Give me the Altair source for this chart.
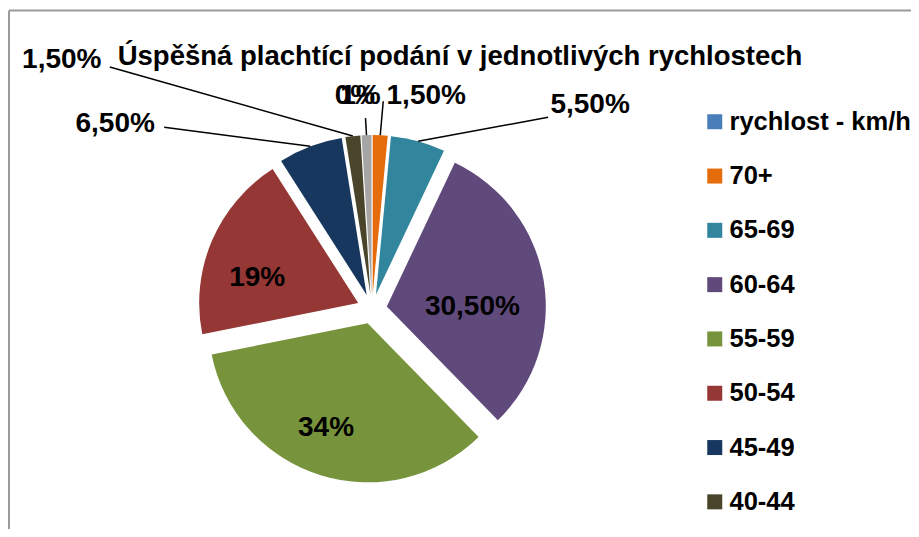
import altair as alt
import pandas as pd

# ---- data ----
categories = ["rychlost - km/h", "70+", "65-69", "60-64", "55-59", "50-54", "45-49", "40-44", "35-39"]
values = [0, 1.5, 5.5, 30.5, 34, 19, 6.5, 1.5, 1]
labels = ["0%", "1,50%", "5,50%", "30,50%", "34%", "19%", "6,50%", "1,50%", "1%"]
colors = ["#4A7EBB", "#E46C0A", "#31859C", "#604A7B", "#77933C", "#953735", "#17375E", "#4A452A", "#A5A5A5"]
title_text = "Úspěšná plachtící podání v jednotlivých rychlostech"

# ---- layout / style (label placement like the original Excel chart) ----
W, H = 903, 521
CX, CY, R, D = 364, 301, 159, 15
label_r = [R, R, R, 100, 100, 100, R, R, R]
text_dx = [-17, 46, 172, -13, -12, -9, -195, -291, -6]
text_dy = [-39, -39, -36, 17, 9, 14, -22, -76, -39]
line_dx = [0, 3, 130, 0, 0, 0, -146, -243, -1]
line_dy = [0, -34, -24, 0, 0, 0, -19, -69, -17]
show_line = [0, 1, 1, 0, 0, 0, 1, 1, 1]

df = pd.DataFrame({
    "order": list(range(len(categories))),
    "category": categories,
    "value": values,
    "label": labels,
    "label_r": label_r,
    "tdx": text_dx,
    "tdy": text_dy,
    "ldx": line_dx,
    "ldy": line_dy,
    "show_line": show_line,
})

base = (
    alt.Chart(df)
    .transform_window(cum="sum(value)", sort=[alt.SortField("order")], frame=[None, 0])
    .transform_joinaggregate(total="sum(value)")
    .transform_calculate(
        a0="2*PI*(datum.cum - datum.value)/datum.total",
        a1="2*PI*datum.cum/datum.total",
    )
    .transform_calculate(mid="(datum.a0 + datum.a1)/2")
    .transform_calculate(
        ax=f"{CX} + {D}*sin(datum.mid)",
        ay=f"{CY} - {D}*cos(datum.mid)",
    )
    .transform_calculate(
        ex=f"datum.ax + {R}*sin(datum.mid)",
        ey=f"datum.ay - {R}*cos(datum.mid)",
        tx="datum.ax + datum.label_r*sin(datum.mid) + datum.tdx",
        ty="datum.ay - datum.label_r*cos(datum.mid) + datum.tdy",
    )
    .transform_calculate(
        lx="datum.ex + datum.ldx",
        ly="datum.ey + datum.ldy",
    )
)

arcs = base.mark_arc(outerRadius=R, stroke=None).encode(
    theta=alt.Theta("a0:Q", scale=None),
    theta2="a1:Q",
    x=alt.X("ax:Q", scale=None),
    y=alt.Y("ay:Q", scale=None),
    color=alt.Color(
        "category:N",
        scale=alt.Scale(domain=categories, range=colors),
        sort=categories,
        legend=alt.Legend(
            title=None,
            orient="none",
            legendX=694,
            legendY=101,
            padding=0,
            symbolType="square",
            symbolSize=225,
            symbolStrokeWidth=0,
            labelFont="Liberation Sans",
            labelFontWeight="bold",
            labelFontSize=25.5,
            labelColor="#000000",
            labelOffset=2,
            rowPadding=27.3,
            labelLimit=300,
        ),
    ),
)

lines = base.transform_filter("datum.show_line == 1").mark_rule(
    color="#000000", strokeWidth=1.5
).encode(
    x=alt.X("ex:Q", scale=None),
    y=alt.Y("ey:Q", scale=None),
    x2="lx:Q",
    y2="ly:Q",
)

texts = base.mark_text(
    font="Liberation Sans", fontWeight="bold", fontSize=28, color="#000000",
    align="center", baseline="middle",
).encode(
    x=alt.X("tx:Q", scale=None),
    y=alt.Y("ty:Q", scale=None),
    text="label:N",
)

one = alt.Data(values=[{"k": 0}])
title = alt.Chart(one).mark_text(
    font="Liberation Sans", fontWeight="bold", fontSize=27.5, color="#000000",
    align="center", baseline="alphabetic",
).encode(x=alt.value(452), y=alt.value(57), text=alt.value(title_text))

border_top = alt.Chart(one).mark_rule(color="#9a9a9a", strokeWidth=2).encode(
    x=alt.value(1), x2=alt.value(W), y=alt.value(2.5), y2=alt.value(2.5)
)
border_left = alt.Chart(one).mark_rule(color="#9a9a9a", strokeWidth=2).encode(
    x=alt.value(1), x2=alt.value(1), y=alt.value(2.5), y2=alt.value(H)
)

chart = (
    alt.layer(arcs, lines, texts, title, border_top, border_left)
    .properties(width=W, height=H, padding=0, autosize=alt.AutoSizeParams(type="none"))
    .configure_view(stroke=None)
)

chart.save("out.html", embed_options={"renderer": "svg", "actions": False})
